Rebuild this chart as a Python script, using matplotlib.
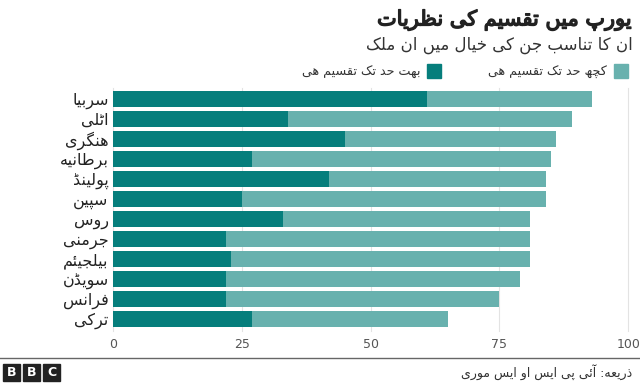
import matplotlib
matplotlib.use("Agg")
import matplotlib.pyplot as plt
import matplotlib.patheffects as pe
from matplotlib import font_manager
from matplotlib.ft2font import FT2Font
from matplotlib.patches import Rectangle
from matplotlib.lines import Line2D

# data (percent of people who think their country is divided)
countries = ["سربیا", "اٹلی", "ہنگری", "برطانیہ", "پولینڈ", "سپین",
             "روس", "جرمنی", "بیلجیئم", "سویڈن", "فرانس", "ترکی"]
very_divided = [61, 34, 45, 27, 42, 25, 33, 22, 23, 22, 22, 27]
somewhat_divided = [32, 55, 41, 58, 42, 59, 48, 59, 58, 57, 53, 38]
x_ticks = [0, 25, 50, 75, 100]

title = "یورپ میں تقسیم کے نظریات"
subtitle = "ان کا تناسب جن کے خیال میں ان ملک"
legend_labels = ["بہت حد تک تقسیم ہے", "کچھ حد تک تقسیم ہے"]
source = "ذریعہ: آئی پی ایس او ایس موری"

DARK = "#067e7c"
LIGHT = "#68b1ae"

# matplotlib has no arabic shaping, so map letters to presentation forms
# (isolated, final, initial, medial) - two entries means right-joining only
FORMS = {
    "آ": (0xFE81, 0xFE82), "أ": (0xFE83, 0xFE84), "ؤ": (0xFE85, 0xFE86),
    "إ": (0xFE87, 0xFE88), "ئ": (0xFE89, 0xFE8A, 0xFE8B, 0xFE8C),
    "ا": (0xFE8D, 0xFE8E), "ب": (0xFE8F, 0xFE90, 0xFE91, 0xFE92),
    "ة": (0xFE93, 0xFE94), "ت": (0xFE95, 0xFE96, 0xFE97, 0xFE98),
    "ث": (0xFE99, 0xFE9A, 0xFE9B, 0xFE9C), "ج": (0xFE9D, 0xFE9E, 0xFE9F, 0xFEA0),
    "ح": (0xFEA1, 0xFEA2, 0xFEA3, 0xFEA4), "خ": (0xFEA5, 0xFEA6, 0xFEA7, 0xFEA8),
    "د": (0xFEA9, 0xFEAA), "ذ": (0xFEAB, 0xFEAC), "ر": (0xFEAD, 0xFEAE),
    "ز": (0xFEAF, 0xFEB0), "س": (0xFEB1, 0xFEB2, 0xFEB3, 0xFEB4),
    "ش": (0xFEB5, 0xFEB6, 0xFEB7, 0xFEB8), "ص": (0xFEB9, 0xFEBA, 0xFEBB, 0xFEBC),
    "ض": (0xFEBD, 0xFEBE, 0xFEBF, 0xFEC0), "ط": (0xFEC1, 0xFEC2, 0xFEC3, 0xFEC4),
    "ظ": (0xFEC5, 0xFEC6, 0xFEC7, 0xFEC8), "ع": (0xFEC9, 0xFECA, 0xFECB, 0xFECC),
    "غ": (0xFECD, 0xFECE, 0xFECF, 0xFED0), "ف": (0xFED1, 0xFED2, 0xFED3, 0xFED4),
    "ق": (0xFED5, 0xFED6, 0xFED7, 0xFED8), "ل": (0xFEDD, 0xFEDE, 0xFEDF, 0xFEE0),
    "م": (0xFEE1, 0xFEE2, 0xFEE3, 0xFEE4), "ن": (0xFEE5, 0xFEE6, 0xFEE7, 0xFEE8),
    "ه": (0xFEE9, 0xFEEA, 0xFEEB, 0xFEEC),
    "و": (0xFEED, 0xFEEE), "ٹ": (0xFB66, 0xFB67, 0xFB68, 0xFB69),
    "پ": (0xFB56, 0xFB57, 0xFB58, 0xFB59), "چ": (0xFB7A, 0xFB7B, 0xFB7C, 0xFB7D),
    "ڈ": (0xFB88, 0xFB89), "ڑ": (0xFB8C, 0xFB8D),
    "ک": (0xFB8E, 0xFB8F, 0xFB90, 0xFB91), "گ": (0xFB92, 0xFB93, 0xFB94, 0xFB95),
    "ں": (0xFB9E, 0xFB9F), "ھ": (0xFBAA, 0xFBAB, 0xFBAC, 0xFBAD),
    "ی": (0xFBFC, 0xFBFD, 0xFBFE, 0xFBFF),
}
UNJOINED = {}

# DejaVu is missing some urdu forms: check what it has and fall back to
# the nearest looking glyph for heh goal and yeh barree
cmap = FT2Font(font_manager.findfont("DejaVu Sans")).get_charmap()
if all(c in cmap for c in (0xFBA6, 0xFBA7, 0xFBA8, 0xFBA9)):
    FORMS["ہ"] = (0xFBA6, 0xFBA7, 0xFBA8, 0xFBA9)
else:
    FORMS["ہ"] = (0xFBA6 if 0xFBA6 in cmap else 0xFEE9, 0xFEEA, 0xFEEB, 0xFEEC)
if 0xFBAE in cmap and 0xFBAF in cmap:
    FORMS["ے"] = (0xFBAE, 0xFBAF)
elif 0xFBAE in cmap:
    UNJOINED["ے"] = 0xFBAE
else:
    FORMS["ے"] = (0xFBFC, 0xFBFD)


def shape(text):
    out = []
    for i, ch in enumerate(text):
        if ch in UNJOINED:
            out.append(chr(UNJOINED[ch]))
            continue
        f = FORMS.get(ch)
        if f is None:
            out.append(ch)
            continue
        prev = text[i - 1] if i > 0 else ""
        nxt = text[i + 1] if i < len(text) - 1 else ""
        join_prev = prev in FORMS and len(FORMS[prev]) == 4
        join_next = len(f) == 4 and nxt in FORMS
        if join_prev and join_next:
            cp = f[3]
        elif join_prev:
            cp = f[1]
        elif join_next:
            cp = f[2]
        else:
            cp = f[0]
        out.append(chr(cp))
    return "".join(reversed(out))


plt.rcParams["font.family"] = ["DejaVu Sans"]

fig = plt.figure(figsize=(6.4, 3.84), dpi=100)
ax = fig.add_axes([0.1763, 0.138, 0.8055, 0.633])

y = list(range(len(countries)))
ax.barh(y, very_divided, height=0.8, color=DARK, zorder=2)
ax.barh(y, somewhat_divided, left=very_divided, height=0.8, color=LIGHT, zorder=2)

ax.set_xlim(0, 100)
ax.set_ylim(11.6, -0.55)
ax.set_xticks(x_ticks)
ax.set_xticklabels([str(t) for t in x_ticks], color="#555555", fontsize=9)
ax.set_yticks(y)
ax.set_yticklabels([shape(c) for c in countries], fontsize=11.5, color="#222222")
ax.tick_params(length=0)
ax.tick_params(axis="x", pad=5)
ax.tick_params(axis="y", pad=3)
for t in x_ticks:
    ax.axvline(t, color="#e3e3e3", lw=0.8, zorder=1, clip_on=False)
for s in ax.spines.values():
    s.set_visible(False)

# title (bold face lacks some urdu glyphs, so thicken the regular one)
fig.text(0.988, 1 - 20 / 384, shape(title), ha="right", va="center",
         fontsize=15, color="#222222",
         path_effects=[pe.withStroke(linewidth=1.0, foreground="#222222")])
fig.text(0.988, 1 - 45 / 384, shape(subtitle), ha="right", va="center",
         fontsize=12, color="#333333")

# legend
leg_y = 1 - 78 / 384
sq_h = 14 / 384
fig.add_artist(Rectangle((614 / 640, leg_y), 14 / 640, sq_h, color=LIGHT,
                         transform=fig.transFigure))
fig.add_artist(Rectangle((427 / 640, leg_y), 14 / 640, sq_h, color=DARK,
                         transform=fig.transFigure))
fig.text(607 / 640, 1 - 72 / 384, shape(legend_labels[1]), ha="right",
         va="center", fontsize=9.2, color="#333333")
fig.text(420 / 640, 1 - 72 / 384, shape(legend_labels[0]), ha="right",
         va="center", fontsize=9.2, color="#333333")

# footer
fig.add_artist(Line2D([0, 1], [1 - 358 / 384] * 2, color="#666666", lw=1,
                      transform=fig.transFigure))
for i, letter in enumerate("BBC"):
    x0 = (3 + i * 20) / 640
    fig.add_artist(Rectangle((x0, 1 - 381 / 384), 17 / 640, 17 / 384,
                             color="#222222", transform=fig.transFigure))
    fig.text(x0 + 8.5 / 640, 1 - 372.5 / 384, letter, ha="center", va="center",
             fontsize=9, fontweight="bold", color="white")
fig.text(0.988, 1 - 372 / 384, shape(source), ha="right", va="center",
         fontsize=9, color="#333333")

fig.savefig("out.png", dpi=100)
